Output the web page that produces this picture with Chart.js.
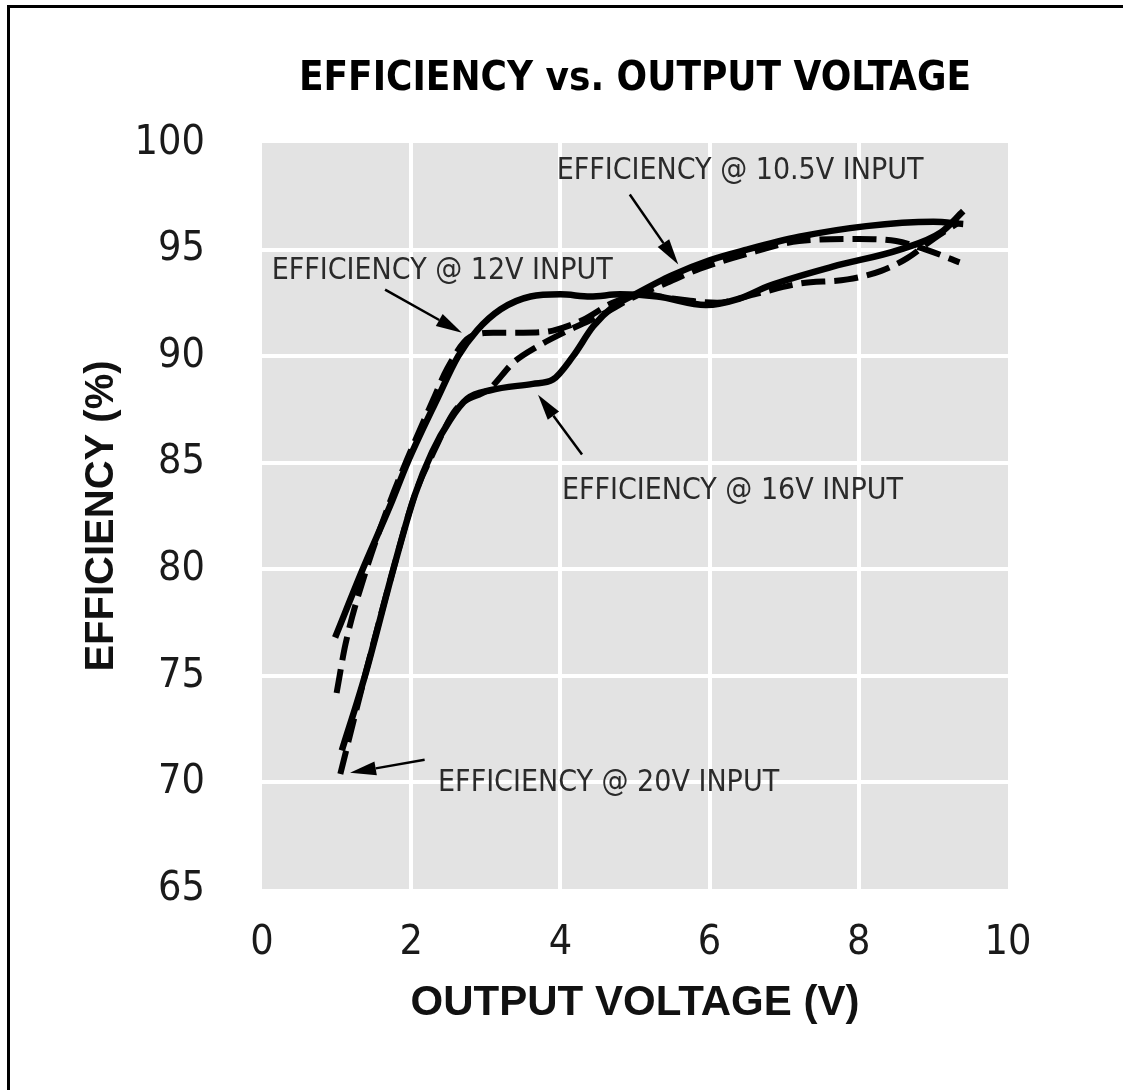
<!DOCTYPE html>
<html>
<head>
<meta charset="utf-8">
<script src="https://cdn.jsdelivr.net/npm/chart.js@4/dist/chart.umd.min.js"></script>
<style>
  html, body { margin: 0; padding: 0; background: #fff; }
  #wrap { position: relative; width: 1123px; height: 1090px; overflow: hidden; }
  #frame {
    position: absolute; left: 7px; top: 5px; width: 1200px; height: 1200px;
    border-left: 3px solid #000; border-top: 3px solid #000; pointer-events: none;
  }
</style>
</head>
<body>
<div id="wrap">
  <canvas id="chart" width="1123" height="1090"></canvas>
  <div id="frame"></div>
</div>
<script>
// Output voltage (V) and efficiency (%) for each input voltage
const vout105 = [0.98, 1.35, 1.72, 1.95, 2.35, 2.63, 2.88, 3.2, 3.6, 4.0, 4.4, 4.8, 5.3, 5.95, 6.4, 6.8, 7.65, 8.55, 9.1, 9.4]
const eff105  = [76.8, 80.0, 83.0, 85.0, 88.0, 90.0, 91.2, 92.2, 92.8, 92.9, 92.8, 92.9, 92.8, 92.4, 92.7, 93.3, 94.2, 95.0, 95.8, 96.8]

const vout12 = [1.0, 1.12, 1.4, 1.72, 1.95, 2.3, 2.48, 2.79, 3.1, 3.5, 3.9, 4.3, 4.7, 5.1, 5.5, 6.1, 6.6, 7.2, 7.85, 8.3, 8.65, 9.0, 9.35]
const eff12  = [74.2, 76.5, 80.0, 83.2, 85.2, 88.0, 89.4, 90.9, 91.1, 91.1, 91.2, 91.7, 92.5, 92.9, 92.7, 92.5, 92.9, 93.4, 93.6, 94.0, 94.6, 95.5, 96.3]

const vout16 = [1.07, 1.38, 1.76, 2.05, 2.28, 2.52, 2.75, 3.06, 3.63, 3.9, 4.17, 4.44, 4.7, 5.0, 5.5, 6.0, 6.5, 7.2, 8.1, 9.0, 9.4]
const eff16  = [71.5, 75.0, 80.0, 83.5, 85.5, 87.0, 88.0, 88.4, 88.7, 88.9, 90.0, 91.4, 92.3, 92.9, 93.8, 94.5, 95.0, 95.6, 96.1, 96.3, 96.2]

const vout20 = [1.05, 1.38, 1.76, 2.05, 2.3, 2.6, 3.06, 3.37, 3.69, 4.1, 4.53, 5.0, 5.4, 5.87, 6.5, 7.2, 8.0, 8.5, 8.9, 9.35]
const eff20  = [70.4, 75.0, 80.0, 83.5, 85.5, 87.5, 88.5, 89.7, 90.45, 91.2, 91.9, 92.8, 93.4, 94.1, 94.8, 95.4, 95.5, 95.4, 95.0, 94.4]

// Callout labels and arrows (data coordinates)
const labelTexts = ['EFFICIENCY @ 10.5V INPUT', 'EFFICIENCY @ 12V INPUT', 'EFFICIENCY @ 16V INPUT', 'EFFICIENCY @ 20V INPUT']
const labelX = [3.95, 0.13, 4.02, 2.36]
const labelY = [98.66, 93.97, 83.64, 69.98]
const arrowFrom = [[4.93, 97.58], [1.65, 93.12], [4.29, 85.38], [2.18, 71.06]]
const arrowTo = [[5.58, 94.3], [2.68, 91.1], [3.70, 88.19], [1.18, 70.45]]

const narrow = '"Liberation Sans Narrow", "DejaVu Sans Condensed", "Liberation Sans", sans-serif'
const bold = '"Liberation Sans", Arial, sans-serif'

function toPoints(xs, ys) {
  return xs.map((x, i) => ({ x: x, y: ys[i] }))
}

function makeSet(label, xs, ys, dashed) {
  return {
    label: label,
    data: toPoints(xs, ys),
    borderColor: '#000',
    borderWidth: dashed ? 6 : 6.5,
    borderDash: dashed ? [24, 9] : [],
    pointRadius: 0,
    fill: false,
    cubicInterpolationMode: 'monotone',
    borderCapStyle: 'butt',
  }
}

// gray plot background
const plotBg = {
  id: 'plotBg',
  beforeDraw(chart) {
    const a = chart.chartArea
    const ctx = chart.ctx
    ctx.save()
    ctx.fillStyle = '#e3e3e3'
    ctx.fillRect(a.left, a.top, a.right - a.left, a.bottom - a.top)
    ctx.restore()
  },
}

// callout texts with arrows
const callouts = {
  id: 'callouts',
  afterDatasetsDraw(chart) {
    const ctx = chart.ctx
    const xs = chart.scales.x
    const ys = chart.scales.y
    ctx.save()
    ctx.fillStyle = '#2a2a2a'
    ctx.font = '30px ' + narrow
    ctx.textAlign = 'left'
    ctx.textBaseline = 'middle'
    labelTexts.forEach((t, i) => {
      ctx.fillText(t, xs.getPixelForValue(labelX[i]), ys.getPixelForValue(labelY[i]))
    })
    ctx.strokeStyle = '#000'
    ctx.fillStyle = '#000'
    ctx.lineWidth = 2.5
    arrowFrom.forEach((f, i) => {
      const x1 = xs.getPixelForValue(f[0])
      const y1 = ys.getPixelForValue(f[1])
      const x2 = xs.getPixelForValue(arrowTo[i][0])
      const y2 = ys.getPixelForValue(arrowTo[i][1])
      const ang = Math.atan2(y2 - y1, x2 - x1)
      const len = 26
      const hw = 7
      const bx = x2 - len * Math.cos(ang)
      const by = y2 - len * Math.sin(ang)
      ctx.beginPath()
      ctx.moveTo(x1, y1)
      ctx.lineTo(bx, by)
      ctx.stroke()
      ctx.beginPath()
      ctx.moveTo(x2, y2)
      ctx.lineTo(bx + hw * Math.sin(ang), by - hw * Math.cos(ang))
      ctx.lineTo(bx - hw * Math.sin(ang), by + hw * Math.cos(ang))
      ctx.closePath()
      ctx.fill()
    })
    ctx.restore()
  },
}

function gridColor(edgeA, edgeB) {
  return ctx => (ctx.tick && (ctx.tick.value === edgeA || ctx.tick.value === edgeB)) ? 'rgba(0,0,0,0)' : '#ffffff'
}

document.fonts.load('30px "Liberation Sans Narrow"').finally(() => {
  new Chart(document.getElementById('chart'), {
    type: 'line',
    data: {
      datasets: [
        makeSet('10.5V', vout105, eff105, false),
        makeSet('12V', vout12, eff12, true),
        makeSet('16V', vout16, eff16, false),
        makeSet('20V', vout20, eff20, true),
      ],
    },
    options: {
      responsive: false,
      animation: false,
      layout: { padding: { left: 78, right: 115, top: 50, bottom: 61 } },
      plugins: {
        legend: { display: false },
        tooltip: { enabled: false },
        title: {
          display: true,
          fullSize: false,
          text: 'EFFICIENCY vs. OUTPUT VOLTAGE',
          color: '#000',
          font: { family: narrow, size: 40, weight: 'bold', lineHeight: 1.2 },
          padding: { top: 6, bottom: 39 },
        },
      },
      scales: {
        x: {
          type: 'linear',
          min: 0,
          max: 10,
          ticks: {
            stepSize: 2,
            color: '#1a1a1a',
            padding: 30,
            font: { family: narrow, size: 41 },
          },
          grid: { color: gridColor(0, 10), lineWidth: 4, drawTicks: false },
          border: { display: false },
          title: {
            display: true,
            text: 'OUTPUT VOLTAGE (V)',
            color: '#111',
            font: { family: bold, size: 42, weight: 'bold', lineHeight: 1.2 },
            padding: 0,
          },
          afterFit(scale) { scale.height = 140 },
        },
        y: {
          min: 65,
          max: 100,
          ticks: {
            stepSize: 5,
            color: '#1a1a1a',
            padding: 57,
            font: { family: narrow, size: 41 },
          },
          grid: { color: gridColor(65, 100), lineWidth: 4, drawTicks: false },
          border: { display: false },
          title: {
            display: true,
            text: 'EFFICIENCY (%)',
            color: '#111',
            font: { family: bold, size: 40, weight: 'bold', lineHeight: 1.2 },
            padding: 0,
          },
          afterFit(scale) { scale.width = 184 },
        },
      },
    },
    plugins: [plotBg, callouts],
  })
})
</script>
</body>
</html>
